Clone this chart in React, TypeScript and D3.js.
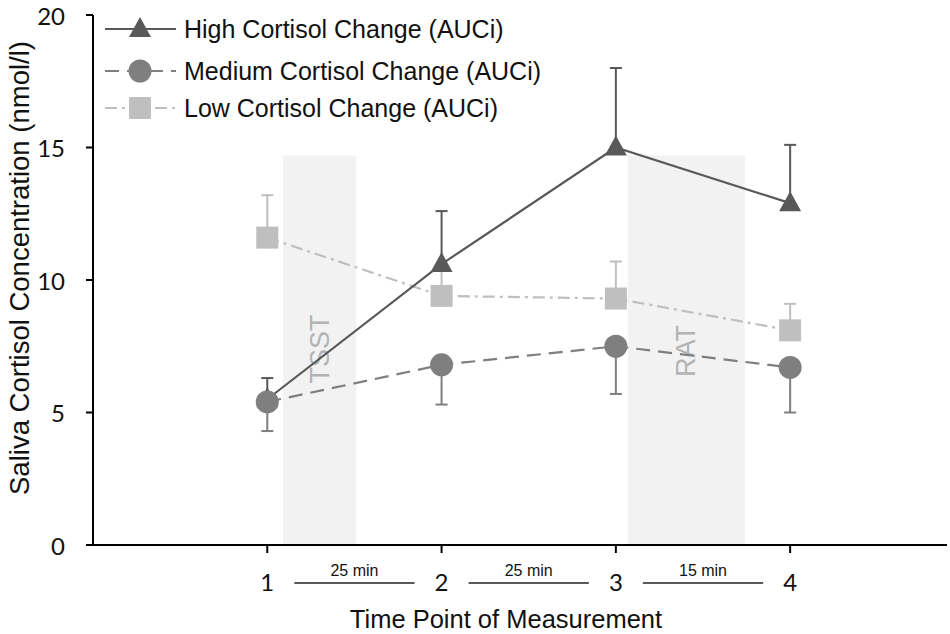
import React, { useEffect, useRef } from "react";
import * as d3 from "d3";

const timePoints = [1, 2, 3, 4];
const seriesNames = [
  "High Cortisol Change (AUCi)",
  "Medium Cortisol Change (AUCi)",
  "Low Cortisol Change (AUCi)",
];
const highValues = [5.5, 10.6, 15.0, 12.9];
const highErrors = [0.8, 2.0, 3.0, 2.2];
const mediumValues = [5.4, 6.8, 7.5, 6.7];
const mediumErrors = [1.1, 1.5, 1.8, 1.7];
const lowValues = [11.6, 9.4, 9.3, 8.1];
const lowErrors = [1.6, 1.0, 1.4, 1.0];
const yTicks = [0, 5, 10, 15, 20];

const phaseLabels = ["TSST", "RAT"];
const phaseStart = [1.09, 3.07];
const phaseEnd = [1.51, 3.74];
const phaseTop = 14.7;

const intervalLabels = ["25 min", "25 min", "15 min"];

type Series = {
  name: string;
  values: number[];
  errors: number[];
  dir: number; // +1 error bar up, -1 down
  color: string;
  dash: string | null;
  marker: "triangle" | "circle" | "square";
};

const App: React.FC = () => {
  const svgRef = useRef<SVGSVGElement>(null);

  useEffect(() => {
    const svg = d3.select(svgRef.current);
    svg.selectAll("*").remove();

    const x = d3.scaleLinear().domain([0, 4.9]).range([93, 947]);
    const y = d3.scaleLinear().domain([0, 20]).range([545, 15]);

    const series: Series[] = [
      { name: seriesNames[2], values: lowValues, errors: lowErrors, dir: 1, color: "#bfbfbf", dash: "12,5,3,5", marker: "square" },
      { name: seriesNames[0], values: highValues, errors: highErrors, dir: 1, color: "#595959", dash: null, marker: "triangle" },
      { name: seriesNames[1], values: mediumValues, errors: mediumErrors, dir: -1, color: "#7f7f7f", dash: "14,8", marker: "circle" },
    ];

    const drawMarker = (g: any, kind: string, cx: number, cy: number, color: string) => {
      if (kind === "triangle") {
        g.append("path")
          .attr("d", `M${cx},${cy - 12}L${cx + 11},${cy + 8}L${cx - 11},${cy + 8}Z`)
          .attr("fill", color);
      } else if (kind === "circle") {
        g.append("circle").attr("cx", cx).attr("cy", cy).attr("r", 11.5).attr("fill", color);
      } else {
        g.append("rect")
          .attr("x", cx - 11)
          .attr("y", cy - 11)
          .attr("width", 22)
          .attr("height", 22)
          .attr("fill", color);
      }
    };

    // shaded phases
    phaseLabels.forEach((label, i) => {
      svg.append("rect")
        .attr("x", x(phaseStart[i]))
        .attr("y", y(phaseTop))
        .attr("width", x(phaseEnd[i]) - x(phaseStart[i]))
        .attr("height", y(0) - y(phaseTop))
        .attr("fill", "#f2f2f2");
      const cx = (x(phaseStart[i]) + x(phaseEnd[i])) / 2;
      svg.append("text")
        .attr("transform", `translate(${cx},${i === 0 ? 349 : 351}) rotate(-90)`)
        .attr("text-anchor", "middle")
        .attr("dominant-baseline", "central")
        .attr("font-family", "Liberation Sans, Arial, sans-serif")
        .attr("font-size", 27)
        .attr("fill", "#b3b3b3")
        .text(label);
    });

    // axes
    svg.append("line")
      .attr("x1", x(0)).attr("x2", x(4.9))
      .attr("y1", y(0)).attr("y2", y(0))
      .attr("stroke", "#000").attr("stroke-width", 2);
    svg.append("line")
      .attr("x1", x(0)).attr("x2", x(0))
      .attr("y1", y(0)).attr("y2", y(20))
      .attr("stroke", "#000").attr("stroke-width", 2);

    yTicks.forEach((t) => {
      svg.append("line")
        .attr("x1", x(0) - 7).attr("x2", x(0))
        .attr("y1", y(t)).attr("y2", y(t))
        .attr("stroke", "#000").attr("stroke-width", 2);
      svg.append("text")
        .attr("x", 65)
        .attr("y", y(t))
        .attr("text-anchor", "end")
        .attr("dominant-baseline", "central")
        .attr("font-family", "Lato, sans-serif")
        .attr("font-size", 24)
        .attr("fill", "#111")
        .text(t);
    });

    timePoints.forEach((t) => {
      svg.append("line")
        .attr("x1", x(t)).attr("x2", x(t))
        .attr("y1", y(0)).attr("y2", y(0) + 8)
        .attr("stroke", "#000").attr("stroke-width", 2);
      svg.append("text")
        .attr("x", x(t))
        .attr("y", 581)
        .attr("text-anchor", "middle")
        .attr("dominant-baseline", "central")
        .attr("font-family", "Lato, sans-serif")
        .attr("font-size", 24)
        .attr("fill", "#111")
        .text(t);
    });

    intervalLabels.forEach((label, i) => {
      const a = timePoints[i];
      const b = timePoints[i + 1];
      const w = b - a;
      svg.append("line")
        .attr("x1", x(a + 0.155 * w)).attr("x2", x(a + 0.845 * w))
        .attr("y1", 583).attr("y2", 583)
        .attr("stroke", "#222").attr("stroke-width", 1.4);
      svg.append("text")
        .attr("x", x(a + 0.5 * w))
        .attr("y", 576)
        .attr("text-anchor", "middle")
        .attr("font-family", "Liberation Sans, Arial, sans-serif")
        .attr("font-size", 16)
        .attr("fill", "#111")
        .text(label);
    });

    svg.append("text")
      .attr("x", 506)
      .attr("y", 628)
      .attr("text-anchor", "middle")
      .attr("font-family", "Liberation Sans, Arial, sans-serif")
      .attr("font-size", 25.5)
      .attr("fill", "#111")
      .text("Time Point of Measurement");

    svg.append("text")
      .attr("transform", `translate(19,268) rotate(-90)`)
      .attr("text-anchor", "middle")
      .attr("dominant-baseline", "central")
      .attr("font-family", "Liberation Sans, Arial, sans-serif")
      .attr("font-size", 27.5)
      .attr("fill", "#111")
      .text("Saliva Cortisol Concentration (nmol/l)");

    // series
    const line = d3
      .line<number>()
      .x((_, i) => x(timePoints[i]))
      .y((d) => y(d));

    series.forEach((s) => {
      const g = svg.append("g");
      g.append("path")
        .datum(s.values)
        .attr("fill", "none")
        .attr("stroke", s.color)
        .attr("stroke-width", 2.2)
        .attr("stroke-dasharray", s.dash)
        .attr("d", line);
      s.values.forEach((v, i) => {
        const end = v + s.dir * s.errors[i];
        g.append("line")
          .attr("x1", x(timePoints[i])).attr("x2", x(timePoints[i]))
          .attr("y1", y(v)).attr("y2", y(end))
          .attr("stroke", s.color).attr("stroke-width", 2);
        g.append("line")
          .attr("x1", x(timePoints[i]) - 6).attr("x2", x(timePoints[i]) + 6)
          .attr("y1", y(end)).attr("y2", y(end))
          .attr("stroke", s.color).attr("stroke-width", 2);
      });
      s.values.forEach((v, i) => drawMarker(g, s.marker, x(timePoints[i]), y(v), s.color));
    });

    // legend
    const legendOrder = [series[1], series[2], series[0]];
    const legendY = [29, 71, 108];
    legendOrder.forEach((s, i) => {
      const ly = legendY[i];
      svg.append("line")
        .attr("x1", 105).attr("x2", 176)
        .attr("y1", ly).attr("y2", ly)
        .attr("stroke", s.color)
        .attr("stroke-width", 2.2)
        .attr("stroke-dasharray", s.dash);
      drawMarker(svg, s.marker, 140, ly, s.color);
      svg.append("text")
        .attr("x", 184)
        .attr("y", ly)
        .attr("dominant-baseline", "central")
        .attr("font-family", "Liberation Sans, Arial, sans-serif")
        .attr("font-size", 25)
        .attr("fill", "#111")
        .text(s.name);
    });
  }, []);

  return (
    <div>
      <svg
        ref={svgRef}
        width={950}
        height={634}
        style={{ position: "absolute", left: 0, top: 0, background: "#fff" }}
      ></svg>
    </div>
  );
};

export default App;
